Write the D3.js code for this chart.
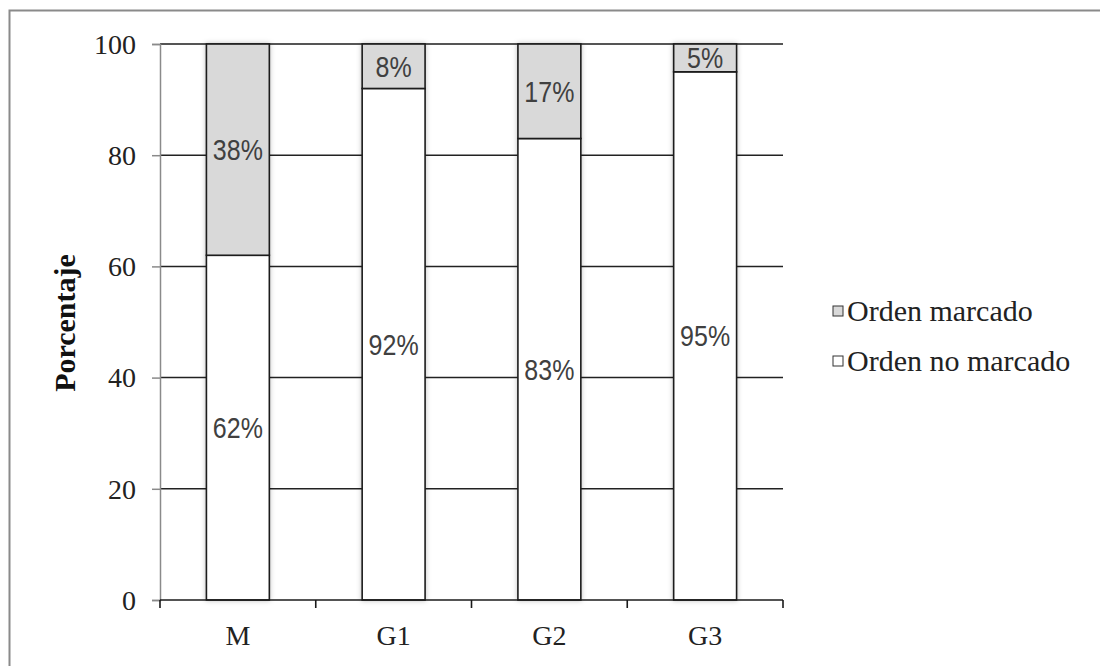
<!DOCTYPE html>
<html>
<head>
<meta charset="utf-8">
<script src="https://cdn.jsdelivr.net/npm/d3@7/dist/d3.min.js"></script>
<style>
  html, body { margin: 0; padding: 0; background: #fff; }
  svg { display: block; }
</style>
</head>
<body>
<svg id="chart" width="1100" height="666"></svg>
<script>
// Categories and stacked percentages
const categories = ["M", "G1", "G2", "G3"];
const noMarcado = [62, 92, 83, 95];   // bottom segment (white)
const marcado = [38, 8, 17, 5];       // top segment (gray)
const yTicks = [0, 20, 40, 60, 80, 100];
const seriesNames = ["Orden marcado", "Orden no marcado"];
const seriesColors = ["#d9d9d9", "#ffffff"];

const svg = d3.select("#chart");
const serif = "'Liberation Serif', 'Times New Roman', serif";
const sans = "'Liberation Sans', Arial, sans-serif";

// Outer frame
svg.append("path")
  .attr("d", "M9.5,666 L9.5,10.5 L1100,10.5")
  .attr("fill", "none").attr("stroke", "#8a8a8a").attr("stroke-width", 2);

// Soft shadow for the bars
const defs = svg.append("defs");
const f = defs.append("filter").attr("id", "barShadow")
  .attr("x", "-20%").attr("y", "-5%").attr("width", "140%").attr("height", "110%");
f.append("feDropShadow").attr("dx", 0).attr("dy", 0)
  .attr("stdDeviation", 2.5).attr("flood-color", "#000").attr("flood-opacity", 0.25);

const x0 = 160, x1 = 783;
const x = d3.scaleBand().domain(categories).range([x0, x1])
  .paddingInner(0.596).paddingOuter(0.298);
const y = d3.scaleLinear().domain([0, 100]).range([600, 44]);

// Horizontal gridlines
svg.append("g").selectAll("line").data(yTicks.filter(d => d > 0)).join("line")
  .attr("x1", x0).attr("x2", x1)
  .attr("y1", d => y(d)).attr("y2", d => y(d))
  .attr("stroke", d => d === 100 ? "#555" : "#222")
  .attr("stroke-width", d => d === 100 ? 2 : 1.5);

// Y axis
const yAxis = svg.append("g").attr("transform", `translate(${x0},0)`)
  .call(d3.axisLeft(y).tickValues(yTicks).tickSize(8).tickPadding(16));
yAxis.select(".domain").attr("stroke", "#8a8a8a").attr("stroke-width", 1.5);
yAxis.selectAll(".tick line").attr("stroke", "#8a8a8a").attr("stroke-width", 1.5);
yAxis.selectAll(".tick text")
  .attr("font-family", serif).attr("font-size", 28).attr("fill", "#222")
  .attr("dy", "0.33em");

// Stacked bars
const stackData = categories.map((c, i) => ({ cat: c, lo: noMarcado[i], hi: marcado[i] }));
const bars = svg.append("g").attr("filter", "url(#barShadow)");
const groups = bars.selectAll("g").data(stackData).join("g");
groups.append("rect")
  .attr("x", d => x(d.cat)).attr("width", x.bandwidth())
  .attr("y", d => y(d.lo)).attr("height", d => y(0) - y(d.lo))
  .attr("fill", seriesColors[1]).attr("stroke", "#1a1a1a").attr("stroke-width", 1.6);
groups.append("rect")
  .attr("x", d => x(d.cat)).attr("width", x.bandwidth())
  .attr("y", d => y(d.lo + d.hi)).attr("height", d => y(d.lo) - y(d.lo + d.hi))
  .attr("fill", seriesColors[0]).attr("stroke", "#1a1a1a").attr("stroke-width", 1.6);

// X axis baseline and boundary ticks
svg.append("line").attr("x1", x0).attr("x2", x1).attr("y1", y(0)).attr("y2", y(0))
  .attr("stroke", "#1a1a1a").attr("stroke-width", 1.6);
const bounds = d3.range(categories.length + 1).map(i => x0 + i * x.step());
svg.append("g").selectAll("line").data(bounds).join("line")
  .attr("x1", d => d).attr("x2", d => d)
  .attr("y1", y(0)).attr("y2", y(0) + 8)
  .attr("stroke", "#1a1a1a").attr("stroke-width", 1.6);

// Category labels
svg.append("g").selectAll("text").data(categories).join("text")
  .attr("x", d => x(d) + x.bandwidth() / 2).attr("y", 645)
  .attr("text-anchor", "middle")
  .attr("font-family", serif).attr("font-size", 28).attr("fill", "#222")
  .text(d => d);

// Value labels in each segment
function valueLabel(cx, cy, txt) {
  svg.append("text")
    .attr("transform", `translate(${cx},${cy}) scale(1,1.15)`)
    .attr("text-anchor", "middle").attr("dy", "0.36em")
    .attr("font-family", sans).attr("font-size", 25).attr("fill", "#404040")
    .text(txt);
}
stackData.forEach(d => {
  const cx = x(d.cat) + x.bandwidth() / 2;
  valueLabel(cx, y(d.lo / 2), d.lo + "%");
  valueLabel(cx, y(d.lo + d.hi / 2), d.hi + "%");
});

// Y axis title
svg.append("text")
  .attr("transform", "translate(75,323) rotate(-90)")
  .attr("text-anchor", "middle")
  .attr("font-family", serif).attr("font-size", 30).attr("font-weight", "bold").attr("fill", "#111")
  .text("Porcentaje");

// Legend
const legend = svg.append("g");
seriesNames.forEach((name, i) => {
  const ly = 311 + i * 50;
  legend.append("rect")
    .attr("x", 833).attr("y", ly - 5).attr("width", 10).attr("height", 10)
    .attr("fill", seriesColors[i]).attr("stroke", "#333").attr("stroke-width", 1);
  legend.append("text")
    .attr("x", 847).attr("y", ly).attr("dy", "0.33em")
    .attr("font-family", serif).attr("font-size", 30).attr("fill", "#222")
    .text(name);
});
</script>
</body>
</html>
